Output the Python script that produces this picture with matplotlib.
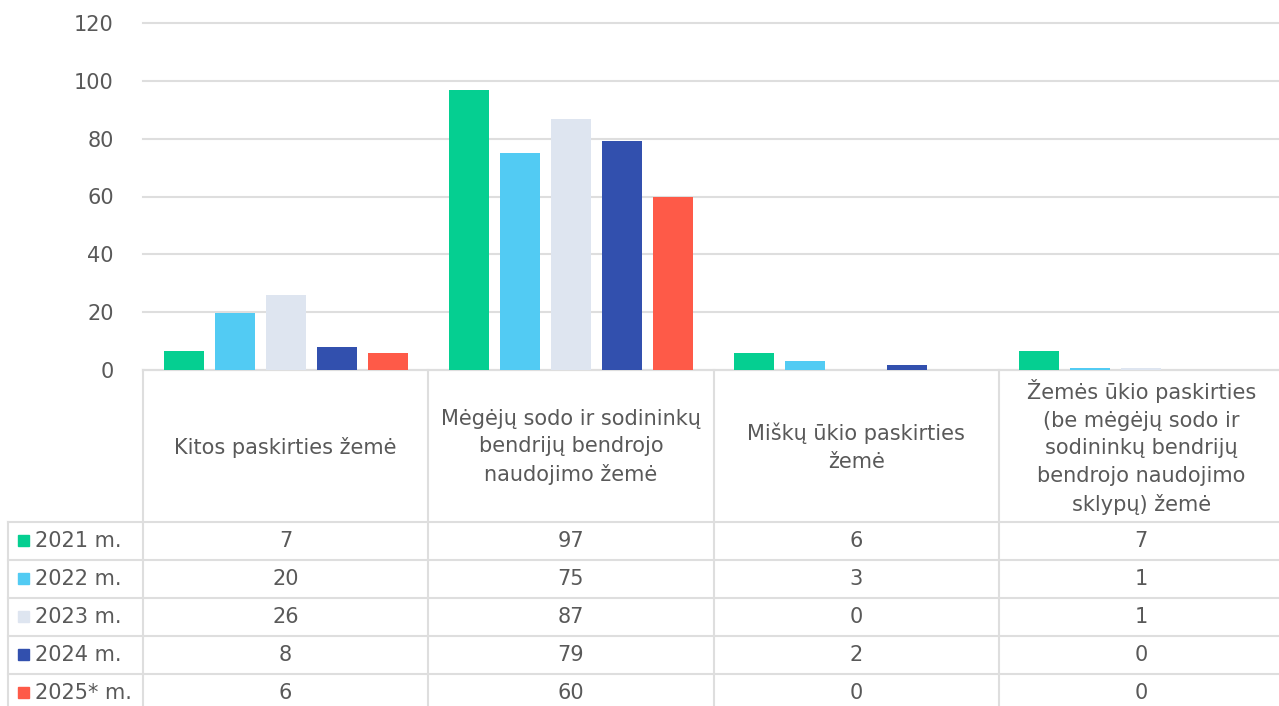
import numpy as np
import matplotlib
matplotlib.use("Agg")
import matplotlib.pyplot as plt
from matplotlib.patches import Rectangle

categories = [
    "Kitos paskirties žemė",
    "Mėgėjų sodo ir sodininkų\nbendrijų bendrojo\nnaudojimo žemė",
    "Miškų ūkio paskirties\nžemė",
    "Žemės ūkio paskirties\n(be mėgėjų sodo ir\nsodininkų bendrijų\nbendrojo naudojimo\nsklypų) žemė",
]
years = ["2021 m.", "2022 m.", "2023 m.", "2024 m.", "2025* m."]
v2021 = [6.6, 96.9, 5.9, 6.6]
v2022 = [19.7, 75.0, 3.1, 0.6]
v2023 = [26.0, 86.8, 0.0, 0.6]
v2024 = [8.0, 79.2, 1.7, 0.0]
v2025 = [5.9, 59.9, 0.0, 0.0]
series = [v2021, v2022, v2023, v2024, v2025]
colors = ["#05CF91", "#52CBF3", "#DEE5F0", "#3250AE", "#FE5A48"]

GRID = "#DEDEDE"
TXT = "#595959"
FS = 15

W, H = 1279, 706
fig = plt.figure(figsize=(W / 100, H / 100), dpi=100)

# layout in pixels
x0, colw = 143, 285.25
y_base, y_top = 370, 23
row_top, row_h = 522, 38

ax = fig.add_axes([x0 / W, (H - y_base) / H, 4 * colw / W, (y_base - y_top) / H])
x = np.arange(len(categories)) + 0.5
step = 51 / colw
bw = 40 / colw
for k, (vals, c) in enumerate(zip(series, colors)):
    ax.bar(x + (k - 2) * step, vals, bw, color=c, zorder=3)
ax.set_xlim(0, 4)
ax.set_ylim(0, 120)
ax.set_yticks(range(0, 121, 20))
ax.set_xticks([])
ax.grid(axis="y", color=GRID, lw=1.5, zorder=0)
for gl in ax.get_ygridlines():
    gl.set_clip_on(False)
for s in ax.spines.values():
    s.set_visible(False)
ax.tick_params(axis="y", length=0, pad=21, labelsize=FS, labelcolor=TXT)
ax.set_facecolor("none")

# data table drawn in pixel coordinates
t = fig.add_axes([0, 0, 1, 1], zorder=-1)
t.set_xlim(0, W)
t.set_ylim(H, 0)
t.axis("off")
right = x0 + 4 * colw
t.plot([x0, right], [y_base, y_base], color=GRID, lw=1.5)
for i in range(5):
    xx = x0 + i * colw
    t.plot([xx, xx], [y_base, H], color=GRID, lw=1.5)
t.plot([8, 8], [row_top, H], color=GRID, lw=1.5)
for r in range(len(years)):
    yy = row_top + r * row_h
    t.plot([8, right], [yy, yy], color=GRID, lw=1.5)

for i, cat in enumerate(categories):
    cx = x0 + (i + 0.5) * colw
    t.text(cx, (y_base + row_top) / 2 + 1, cat, ha="center", va="center",
           fontsize=FS, color=TXT, linespacing=1.47)

for r, (yr, vals, c) in enumerate(zip(years, series, colors)):
    cy = row_top + (r + 0.5) * row_h
    t.add_patch(Rectangle((18, cy - 6), 11, 11, color=c))
    t.text(35, cy, yr, ha="left", va="center", fontsize=FS, color=TXT)
    for i, v in enumerate(vals):
        cx = x0 + (i + 0.5) * colw
        t.text(cx, cy, f"{int(np.floor(v + 0.5))}", ha="center", va="center",
               fontsize=FS, color=TXT)

fig.savefig("out.png", dpi=100)
